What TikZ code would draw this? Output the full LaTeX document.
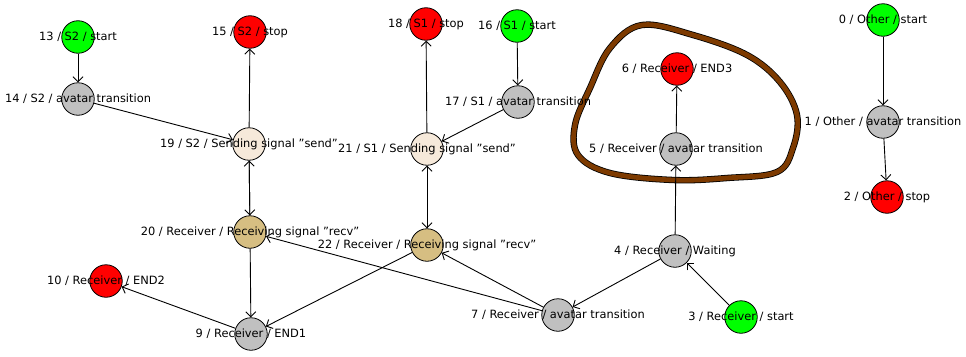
\documentclass[tikz,border=0pt]{standalone}
\usepackage{fontspec}
\setmainfont[Ligatures=ResetAll]{DejaVu Sans}
\usetikzlibrary{arrows.meta}
\definecolor{cgreen}{RGB}{0,255,0}
\definecolor{cred}{RGB}{255,0,0}
\definecolor{cgray}{RGB}{192,192,192}
\definecolor{clinen}{RGB}{246,233,218}
\definecolor{ctan}{RGB}{214,190,130}
\definecolor{cbrown}{RGB}{125,58,0}
\newcommand{\dq}{\symbol{34}}
\tikzset{
  st/.style={circle, draw=black, line width=0.8pt, minimum size=32.5pt, inner sep=0pt},
  stgreen/.style={st, fill=cgreen},
  stred/.style={st, fill=cred},
  stgray/.style={st, fill=cgray},
  stlinen/.style={st, fill=clinen},
  sttan/.style={st, fill=ctan},
  lbl/.style={font=\fontsize{11.4}{13}\selectfont, inner sep=0pt},
  tr/.style={line width=0.9pt, -{Straight Barb[length=5pt,width=10pt,line width=0.9pt]}},
}
\begin{document}
\begin{tikzpicture}[x=1pt,y=-1pt]
\useasboundingbox (0,0) rectangle (966,356);
% brown hand-drawn loop
\draw[line width=0.8pt, draw=black, double=cbrown, double distance=4.8pt]
  plot[smooth cycle, tension=0.6] coordinates {
  (642,25) (693,35) (747,55) (780,82) (797,115) (793,148) (777,172)
  (727,178) (673,180) (610,173) (578,155) (575,125) (590,88) (610,48)};
% states
\node[stgreen] (n13) at (78,37) {};
\node[stgray] (n14) at (78,99) {};
\node[stred] (n15) at (250,32) {};
\node[stlinen] (n19) at (249,144) {};
\node[sttan] (n20) at (250,232) {};
\node[stred] (n10) at (106,281) {};
\node[stgray] (n9) at (251,334) {};
\node[stred] (n18) at (426,24) {};
\node[stgreen] (n16) at (517,26) {};
\node[stgray] (n17) at (518,102) {};
\node[stlinen] (n21) at (427,149) {};
\node[sttan] (n22) at (427,245) {};
\node[stgray] (n7) at (558,315) {};
\node[stred] (n6) at (677,69) {};
\node[stgray] (n5) at (676,149) {};
\node[stgray] (n4) at (675,251) {};
\node[stgreen] (n3) at (741,317) {};
\node[stgreen] (n0) at (883,20) {};
\node[stgray] (n1) at (883,122) {};
\node[stred] (n2) at (887,197) {};
% transitions
\draw[tr] (n13) -- (n14);
\draw[tr] (n14) -- (n19);
\draw[tr] (n19) -- (n15);
\draw[tr] (n19) -- (n20);
\draw[tr] (n20) -- (n19);
\draw[tr] (n20) -- (n9);
\draw[tr] (n22) -- (n9);
\draw[tr] (n9) -- (n10);
\draw[tr] (n7) -- (n20);
\draw[tr] (n7) -- (n22);
\draw[tr] (n16) -- (n17);
\draw[tr] (n17) -- (n21);
\draw[tr] (n21) -- (n18);
\draw[tr] (n21) -- (n22);
\draw[tr] (n22) -- (n21);
\draw[tr] (n4) -- (n7);
\draw[tr] (n4) -- (n5);
\draw[tr] (n5) -- (n6);
\draw[tr] (n3) -- (n4);
\draw[tr] (n0) -- (n1);
\draw[tr] (n1) -- (n2);
% labels
\node[lbl] (l13) at (n13) {13 / S2 / start};
\node[lbl] (l14) at (n14) {14 / S2 / avatar transition};
\node[lbl] (l15) at (n15) {15 / S2 / stop};
\node[lbl] (l19) at (n19) {19 / S2 / Sending signal \dq send\dq};
\node[lbl] (l20) at (n20) {20 / Receiver / Receiving signal \dq recv\dq};
\node[lbl] (l10) at (n10) {10 / Receiver / END2};
\node[lbl] (l9) at (n9) {9 / Receiver / END1};
\node[lbl] (l18) at (n18) {18 / S1 / stop};
\node[lbl] (l16) at (n16) {16 / S1 / start};
\node[lbl] (l17) at (n17) {17 / S1 / avatar transition};
\node[lbl] (l21) at (n21) {21 / S1 / Sending signal \dq send\dq};
\node[lbl] (l22) at (n22) {22 / Receiver / Receiving signal \dq recv\dq};
\node[lbl] (l7) at (n7) {7 / Receiver / avatar transition};
\node[lbl] (l6) at (n6) {6 / Receiver / END3};
\node[lbl] (l5) at (n5) {5 / Receiver / avatar transition};
\node[lbl] (l4) at (n4) {4 / Receiver / Waiting};
\node[lbl] (l3) at (n3) {3 / Receiver / start};
\node[lbl] (l0) at (n0) {0 / Other / start};
\node[lbl] (l1) at (n1) {1 / Other / avatar transition};
\node[lbl] (l2) at (n2) {2 / Other / stop};
\end{tikzpicture}
\end{document}
